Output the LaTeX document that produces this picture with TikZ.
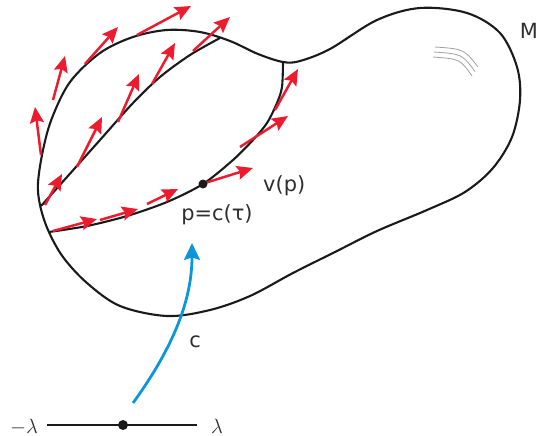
\documentclass[tikz,border=0pt]{standalone}
\usepackage{fontspec}
\setmainfont{DejaVu Sans}
\usepackage{xcolor}
\usepackage{tikz}
\usetikzlibrary{arrows.meta}
\definecolor{cLine}{HTML}{1A1A1A}
\definecolor{cVec}{HTML}{EC1C2E}
\definecolor{cMap}{HTML}{0A96D8}
\definecolor{cShine}{HTML}{A0A0A0}
\definecolor{cText}{HTML}{2E2E2E}
\tikzset{
  curve/.style={draw=cLine, line width=2.1pt},
  vec/.style={-{Stealth[length=16pt, width=14pt, inset=2.5pt]}, cVec, line width=2.5pt},
  maparr/.style={-{Stealth[length=17pt, width=16pt, inset=2.5pt]}, cMap, line width=2.8pt},
  shine/.style={cShine, line width=0.8pt},
  lbl/.style={font=\fontsize{21}{25}\selectfont, text=cText, inner sep=0pt},
  dotnode/.style={circle, fill=cLine, inner sep=0pt, minimum size=9pt}
}

\begin{document}
\begin{tikzpicture}[x=1bp, y=-1bp]
\useasboundingbox (0,0) rectangle (539,436);
% the manifold M
\draw[curve] plot[smooth cycle, tension=0.55] coordinates {
  (38,183) (43,150) (52,118) (70,82) (100,53) (133,37) (167,30) (200,32)
  (230,41) (258,54) (283,62) (300,61) (330,49) (377,20) (420,8) (467,13)
  (500,33) (517,67) (520,100) (512,137) (493,168) (465,192) (427,210)
  (377,231) (335,252) (293,273) (250,296) (210,310) (167,316) (120,306)
  (87,283) (63,257) (48,230) (40,205)};
% highlight on the right lobe
\foreach \k in {0,1,2}
  \draw[shine] (435-\k, 47+5*\k) .. controls (464-2*\k, 49+5*\k) .. (478-3*\k, 67+4.5*\k);
% integral curves
\draw[curve] plot[smooth] coordinates {(41,206) (67,177) (100,140) (133,103) (160,77) (190,55) (220,38)};
\draw[curve] plot[smooth] coordinates {(49,232) (87,226) (127,216) (167,202) (203,184)
  (233,160) (253,140) (267,123) (277,103) (282,87) (283,62)};
% vector field along the curves
\foreach \xa/\ya/\xb/\yb in {41/155/35/107, 53/100/65/56, 85/64/118/27, 137/35/191/6,
    45/205/62/174, 77/167/102/117, 118/122/139/74, 152/84/175/43, 193/51/230/17,
    53/231/97/219, 100/220/138/209, 147/204/178/189, 205/183/253/168,
    240/147/288/116, 275/110/298/69}
  \draw[vec] (\xa,\ya) -- (\xb,\yb);
% the point p and labels
\node[dotnode] (pdot) at (203,184) {};
\node[lbl, anchor=west] (vlabel) at (263,186) {v(p)};
\node[lbl] (plabel) at (217,215) {p=c(τ)};
\node[lbl, anchor=east] (mlabel) at (538,31) {M};
% parameter interval
\node[lbl, anchor=base] (lamneg) at (24,433) {$-\lambda$};
\node[lbl, anchor=base] (lampos) at (217,433) {$\lambda$};
\coordinate (ia) at (47,425);
\coordinate (ib) at (197,425);
\draw[curve, line width=1.8pt] (ia) -- (ib);
\node[dotnode, minimum size=10pt] (tdot) at (123,425) {};
% the map c
\coordinate (cfoot) at (133,403);
\coordinate (ctip) at (192,243);
\draw[maparr] (cfoot) .. controls +(42,-58) and +(0,55) .. (ctip);
\node[lbl] (clabel) at (195,342) {c};
\end{tikzpicture}
\end{document}
